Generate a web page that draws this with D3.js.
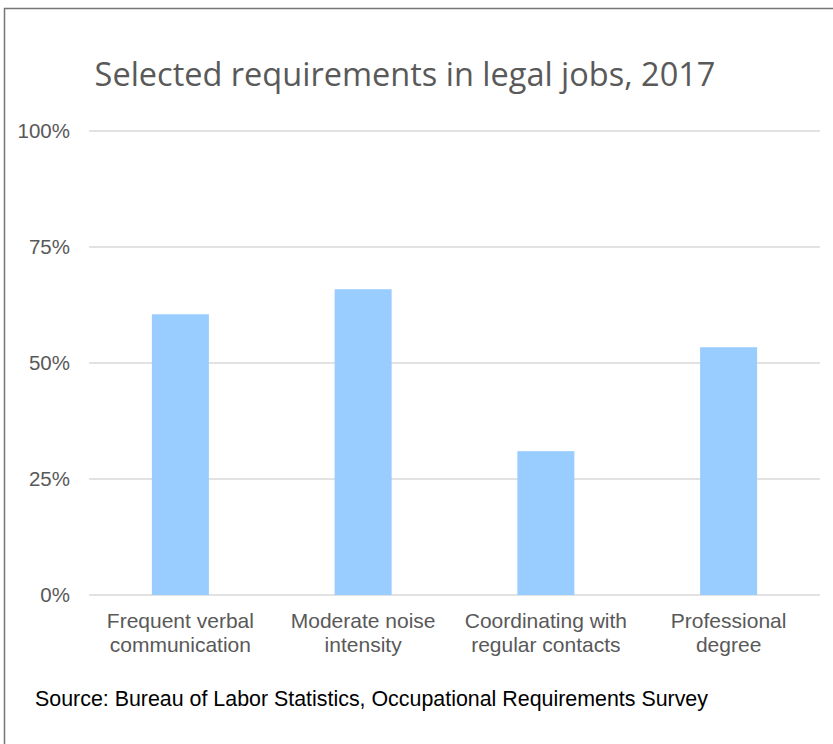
<!DOCTYPE html>
<html><head><meta charset="utf-8">
<script src="https://cdn.jsdelivr.net/npm/d3@7"></script>
<style>body{margin:0;background:#fff}svg{display:block}</style>
</head><body>
<svg id="c" width="833" height="744"></svg>
<script>
const categories = [["Frequent verbal","communication"],["Moderate noise","intensity"],["Coordinating with","regular contacts"],["Professional","degree"]];
const values = [0.605, 0.659, 0.310, 0.534];
const yTicks = [0, 0.25, 0.5, 0.75, 1.0];
const title = "Selected requirements in legal jobs, 2017";
const source = "Source: Bureau of Labor Statistics, Occupational Requirements Survey";

const svg = d3.select("#c");
svg.append("rect").attr("x",0).attr("y",0).attr("width",833).attr("height",744).attr("fill","#fff");
// border (left + top)
svg.append("path").attr("d","M4.5,744 V8.5 H833").attr("fill","none").attr("stroke","#767676").attr("stroke-width",1.5);

const x = d3.scaleBand().domain(d3.range(categories.length)).range([89,820]).paddingInner(0.688).paddingOuter(0.344);
const y = d3.scaleLinear().domain([0,1]).range([595,131]);

svg.append("g").selectAll("line").data(yTicks).join("line")
  .attr("x1",89).attr("x2",820).attr("y1",d=>y(d)).attr("y2",d=>y(d))
  .attr("stroke","#d9d9d9").attr("stroke-width",1.5);

svg.append("g").selectAll("rect").data(values).join("rect")
  .attr("x",(d,i)=>x(i)).attr("width",x.bandwidth())
  .attr("y",d=>y(d)).attr("height",d=>y(0)-y(d)).attr("fill","#99ccff");

svg.append("g").selectAll("text").data(yTicks).join("text")
  .attr("x",70).attr("y",d=>y(d)).attr("dy","0.35em").attr("text-anchor","end")
  .attr("font-family","Liberation Sans, Arial, sans-serif").attr("font-size",20.5).attr("fill","#595959")
  .text(d=>d3.format(".0%")(d));

const cl = svg.append("g").selectAll("text").data(categories).join("text")
  .attr("text-anchor","middle").attr("font-family","Liberation Sans, Arial, sans-serif").attr("font-size",21).attr("fill","#595959");
cl.each(function(d,i){
  const t=d3.select(this);
  d.forEach((s,j)=>t.append("tspan").attr("x",x(i)+x.bandwidth()/2).attr("y",628+j*23.5).text(s));
});

svg.append("text").attr("x",405).attr("y",86).attr("text-anchor","middle")
  .attr("font-family","Open Sans, sans-serif").attr("font-size",32.5).attr("fill","#595959").text(title);

svg.append("text").attr("x",35).attr("y",705.5).attr("font-family","Liberation Sans, Arial, sans-serif")
  .attr("font-size",21.4).attr("fill","#000").text(source);
</script>
</body></html>
